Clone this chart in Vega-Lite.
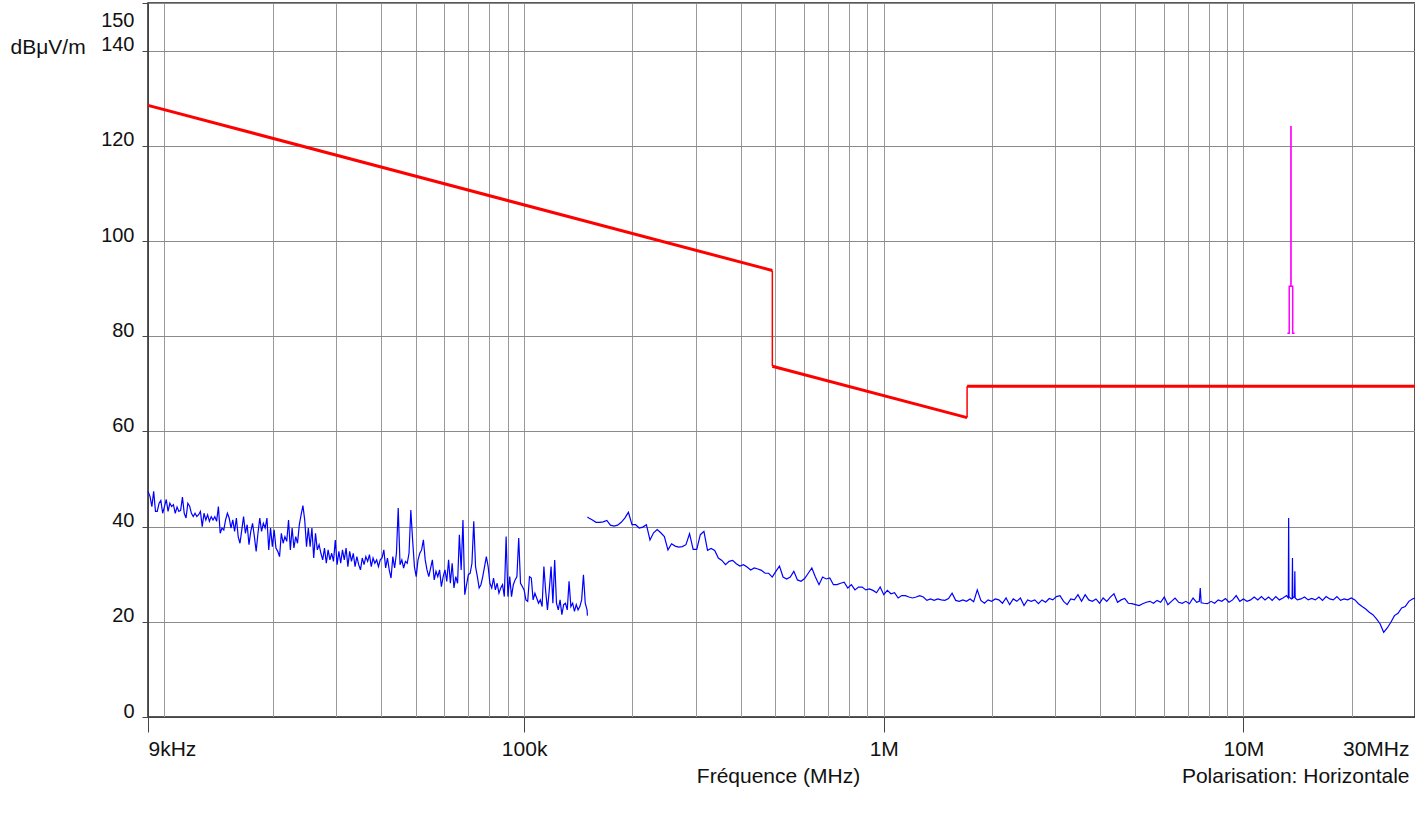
{
"$schema":"https://vega.github.io/schema/vega-lite/v6.json",
"width":1267,"height":714,
"autosize":{"type":"none"},
"padding":{"left":148,"top":3,"right":0,"bottom":99},
"background":"white",
"config":{"view":{"stroke":"#222","strokeWidth":1.5},"font":"Liberation Sans",
"axis":{"labelFont":"Liberation Sans","titleFont":"Liberation Sans","labelColor":"#111","titleColor":"#111","titleFontWeight":"normal","domainColor":"#444","tickColor":"#444"}},
"datasets":{
"lf":[{"hz":9000,"db":47.4},{"hz":9120,"db":46.3},{"hz":9226,"db":44.2},{"hz":9333,"db":47.4},{"hz":9441,"db":43.2},{"hz":9550,"db":43.2},{"hz":9661,"db":44.9},{"hz":9772,"db":45.5},{"hz":9886,"db":42.8},{"hz":10000,"db":44.2},{"hz":10116,"db":45.7},{"hz":10233,"db":43.2},{"hz":10351,"db":44.9},{"hz":10471,"db":44.2},{"hz":10593,"db":44.6},{"hz":10715,"db":42.8},{"hz":10839,"db":44.1},{"hz":10965,"db":43.2},{"hz":11092,"db":43.4},{"hz":11220,"db":46.2},{"hz":11350,"db":42.8},{"hz":11482,"db":41.8},{"hz":11614,"db":44.9},{"hz":11749,"db":44.3},{"hz":11885,"db":42.8},{"hz":12023,"db":42.1},{"hz":12162,"db":42.8},{"hz":12303,"db":42.1},{"hz":12445,"db":42.5},{"hz":12589,"db":43.2},{"hz":12735,"db":40.0},{"hz":12882,"db":42.8},{"hz":13032,"db":41.4},{"hz":13183,"db":42.5},{"hz":13335,"db":41.1},{"hz":13490,"db":42.1},{"hz":13646,"db":41.4},{"hz":13804,"db":42.1},{"hz":13964,"db":41.1},{"hz":14125,"db":44.2},{"hz":14289,"db":38.6},{"hz":14454,"db":39.7},{"hz":14622,"db":39.3},{"hz":14791,"db":41.4},{"hz":14962,"db":42.8},{"hz":15136,"db":41.8},{"hz":15311,"db":39.7},{"hz":15488,"db":41.4},{"hz":15668,"db":39.0},{"hz":15849,"db":41.8},{"hz":16032,"db":37.9},{"hz":16218,"db":36.5},{"hz":16406,"db":39.3},{"hz":16596,"db":42.1},{"hz":16788,"db":38.6},{"hz":16982,"db":40.4},{"hz":17179,"db":36.2},{"hz":17378,"db":39.0},{"hz":17579,"db":40.7},{"hz":17783,"db":37.9},{"hz":17989,"db":34.8},{"hz":18197,"db":38.6},{"hz":18408,"db":41.8},{"hz":18621,"db":39.0},{"hz":18836,"db":40.7},{"hz":19055,"db":39.7},{"hz":19275,"db":41.8},{"hz":19498,"db":35.1},{"hz":19724,"db":39.7},{"hz":19953,"db":35.8},{"hz":20184,"db":39.3},{"hz":20417,"db":35.5},{"hz":20654,"db":34.8},{"hz":20893,"db":33.7},{"hz":21135,"db":38.6},{"hz":21380,"db":36.5},{"hz":21627,"db":37.9},{"hz":21878,"db":36.9},{"hz":22131,"db":41.4},{"hz":22387,"db":35.1},{"hz":22646,"db":39.7},{"hz":22909,"db":35.5},{"hz":23174,"db":37.9},{"hz":23442,"db":36.5},{"hz":23714,"db":40.4},{"hz":23988,"db":42.5},{"hz":24266,"db":44.4},{"hz":24547,"db":41.4},{"hz":24831,"db":35.8},{"hz":25119,"db":39.7},{"hz":25410,"db":35.8},{"hz":25704,"db":39.7},{"hz":26002,"db":33.4},{"hz":26303,"db":38.6},{"hz":26607,"db":35.1},{"hz":26915,"db":36.2},{"hz":27227,"db":34.4},{"hz":27542,"db":33.0},{"hz":27861,"db":35.5},{"hz":28184,"db":32.3},{"hz":28510,"db":35.1},{"hz":28840,"db":33.0},{"hz":29174,"db":34.4},{"hz":29512,"db":32.7},{"hz":29854,"db":37.2},{"hz":30200,"db":32.0},{"hz":30549,"db":34.8},{"hz":30903,"db":32.3},{"hz":31261,"db":35.1},{"hz":31623,"db":33.0},{"hz":31989,"db":35.5},{"hz":32359,"db":31.6},{"hz":32734,"db":34.8},{"hz":33113,"db":32.7},{"hz":33497,"db":34.4},{"hz":33884,"db":31.6},{"hz":34277,"db":33.7},{"hz":34674,"db":32.0},{"hz":35075,"db":30.9},{"hz":35481,"db":33.4},{"hz":35892,"db":32.0},{"hz":36308,"db":33.7},{"hz":36728,"db":32.7},{"hz":37154,"db":34.1},{"hz":37584,"db":31.6},{"hz":38019,"db":33.4},{"hz":38459,"db":32.3},{"hz":38905,"db":33.0},{"hz":39355,"db":31.6},{"hz":39811,"db":33.0},{"hz":40272,"db":33.4},{"hz":40738,"db":35.1},{"hz":41210,"db":31.3},{"hz":41687,"db":33.4},{"hz":42170,"db":30.9},{"hz":42658,"db":29.2},{"hz":43152,"db":33.7},{"hz":43652,"db":31.3},{"hz":44157,"db":34.4},{"hz":44668,"db":43.9},{"hz":45186,"db":32.0},{"hz":45709,"db":33.0},{"hz":46238,"db":31.3},{"hz":46774,"db":32.7},{"hz":47315,"db":32.3},{"hz":47863,"db":34.4},{"hz":48417,"db":43.5},{"hz":48978,"db":37.2},{"hz":49545,"db":31.6},{"hz":50119,"db":29.5},{"hz":50699,"db":33.0},{"hz":51286,"db":34.4},{"hz":51880,"db":35.1},{"hz":52481,"db":37.2},{"hz":53088,"db":33.0},{"hz":53703,"db":30.9},{"hz":54325,"db":29.5},{"hz":54954,"db":31.3},{"hz":55590,"db":33.0},{"hz":56234,"db":28.8},{"hz":56885,"db":30.6},{"hz":57544,"db":29.5},{"hz":58210,"db":30.9},{"hz":58884,"db":27.4},{"hz":59566,"db":29.5},{"hz":60256,"db":30.9},{"hz":60954,"db":28.5},{"hz":61660,"db":33.0},{"hz":62373,"db":28.1},{"hz":63096,"db":32.3},{"hz":63826,"db":27.1},{"hz":64565,"db":29.5},{"hz":65313,"db":28.1},{"hz":66069,"db":38.3},{"hz":66834,"db":30.9},{"hz":67608,"db":41.4},{"hz":68391,"db":25.7},{"hz":69183,"db":27.8},{"hz":69984,"db":29.9},{"hz":70795,"db":30.2},{"hz":71614,"db":32.3},{"hz":72444,"db":41.1},{"hz":73282,"db":31.6},{"hz":74131,"db":29.5},{"hz":74989,"db":27.1},{"hz":75858,"db":27.8},{"hz":76736,"db":29.5},{"hz":77625,"db":31.6},{"hz":78524,"db":33.7},{"hz":79433,"db":31.6},{"hz":80353,"db":28.1},{"hz":81283,"db":27.1},{"hz":82224,"db":29.2},{"hz":83176,"db":26.7},{"hz":84140,"db":28.1},{"hz":85114,"db":26.0},{"hz":86099,"db":27.1},{"hz":87096,"db":27.8},{"hz":88105,"db":25.3},{"hz":89125,"db":37.9},{"hz":90157,"db":25.3},{"hz":91201,"db":29.5},{"hz":92257,"db":25.3},{"hz":93325,"db":27.8},{"hz":94406,"db":28.8},{"hz":95499,"db":29.5},{"hz":96605,"db":37.6},{"hz":97724,"db":28.1},{"hz":98855,"db":27.4},{"hz":100000,"db":26.7},{"hz":101160,"db":24.6},{"hz":102330,"db":24.3},{"hz":103510,"db":29.5},{"hz":104710,"db":29.2},{"hz":105930,"db":24.6},{"hz":107150,"db":26.0},{"hz":108390,"db":25.0},{"hz":109650,"db":23.9},{"hz":110920,"db":24.6},{"hz":112200,"db":23.2},{"hz":113500,"db":31.6},{"hz":114820,"db":26.4},{"hz":116140,"db":22.5},{"hz":117490,"db":26.7},{"hz":118850,"db":31.6},{"hz":120230,"db":23.9},{"hz":121620,"db":33.0},{"hz":123030,"db":23.9},{"hz":124450,"db":22.5},{"hz":125890,"db":24.6},{"hz":127350,"db":21.5},{"hz":128820,"db":23.6},{"hz":130320,"db":23.9},{"hz":131830,"db":22.5},{"hz":133350,"db":28.5},{"hz":134900,"db":23.2},{"hz":136460,"db":23.9},{"hz":138040,"db":22.2},{"hz":139640,"db":23.6},{"hz":141250,"db":22.5},{"hz":142890,"db":23.2},{"hz":144540,"db":24.6},{"hz":146220,"db":29.9},{"hz":147910,"db":23.9},{"hz":149620,"db":22.5},{"hz":150000,"db":21.3}],
"hf":[{"hz":150000,"db":42.0},{"hz":151360,"db":41.8},{"hz":154880,"db":41.4},{"hz":158490,"db":40.9},{"hz":162180,"db":40.9},{"hz":165960,"db":41.0},{"hz":169820,"db":41.3},{"hz":173780,"db":40.3},{"hz":177830,"db":40.1},{"hz":181970,"db":40.3},{"hz":186210,"db":40.9},{"hz":190550,"db":41.8},{"hz":194980,"db":43.0},{"hz":199530,"db":40.4},{"hz":204170,"db":40.4},{"hz":208930,"db":39.7},{"hz":213800,"db":39.9},{"hz":218780,"db":40.4},{"hz":223870,"db":37.2},{"hz":229090,"db":38.7},{"hz":234420,"db":39.4},{"hz":239880,"db":38.7},{"hz":245470,"db":37.9},{"hz":251190,"db":35.1},{"hz":257040,"db":36.4},{"hz":263030,"db":35.9},{"hz":269150,"db":35.7},{"hz":275420,"db":35.8},{"hz":281840,"db":36.2},{"hz":288400,"db":38.5},{"hz":295120,"db":35.2},{"hz":302000,"db":35.2},{"hz":309030,"db":38.3},{"hz":316230,"db":39.0},{"hz":323590,"db":35.0},{"hz":331130,"db":35.4},{"hz":338840,"db":35.0},{"hz":346740,"db":33.4},{"hz":354810,"db":32.9},{"hz":363080,"db":32.0},{"hz":371540,"db":32.7},{"hz":380190,"db":32.9},{"hz":389050,"db":32.2},{"hz":398110,"db":31.7},{"hz":407380,"db":32.0},{"hz":416870,"db":31.5},{"hz":426580,"db":30.9},{"hz":436520,"db":31.3},{"hz":446680,"db":31.1},{"hz":457090,"db":30.8},{"hz":467740,"db":30.2},{"hz":478630,"db":30.2},{"hz":489780,"db":29.4},{"hz":501190,"db":30.6},{"hz":512860,"db":31.7},{"hz":524810,"db":29.4},{"hz":537030,"db":29.0},{"hz":549540,"db":29.4},{"hz":562340,"db":30.6},{"hz":575440,"db":28.8},{"hz":588840,"db":28.5},{"hz":602560,"db":29.1},{"hz":616600,"db":30.2},{"hz":630960,"db":31.3},{"hz":645650,"db":29.4},{"hz":660690,"db":27.8},{"hz":676080,"db":29.4},{"hz":691830,"db":29.0},{"hz":707950,"db":29.2},{"hz":724440,"db":27.8},{"hz":741310,"db":27.8},{"hz":758580,"db":28.1},{"hz":776250,"db":28.3},{"hz":794330,"db":27.1},{"hz":812830,"db":27.8},{"hz":831760,"db":26.7},{"hz":851140,"db":27.3},{"hz":870960,"db":27.3},{"hz":891250,"db":26.7},{"hz":912010,"db":26.9},{"hz":933250,"db":26.6},{"hz":954990,"db":26.1},{"hz":977240,"db":27.3},{"hz":1000000,"db":25.7},{"hz":1023300,"db":26.6},{"hz":1047100,"db":25.9},{"hz":1071500,"db":26.1},{"hz":1096500,"db":25.0},{"hz":1122000,"db":25.5},{"hz":1148200,"db":25.5},{"hz":1174900,"db":25.2},{"hz":1202300,"db":25.0},{"hz":1230300,"db":25.2},{"hz":1258900,"db":25.5},{"hz":1288200,"db":25.2},{"hz":1318300,"db":24.5},{"hz":1349000,"db":24.8},{"hz":1380400,"db":24.5},{"hz":1412500,"db":24.8},{"hz":1445400,"db":24.6},{"hz":1479100,"db":24.5},{"hz":1513600,"db":24.9},{"hz":1548800,"db":26.0},{"hz":1584900,"db":24.5},{"hz":1621800,"db":24.3},{"hz":1659600,"db":24.6},{"hz":1698200,"db":24.3},{"hz":1737800,"db":24.8},{"hz":1778300,"db":24.2},{"hz":1819700,"db":26.7},{"hz":1862100,"db":24.5},{"hz":1905500,"db":23.9},{"hz":1949800,"db":24.6},{"hz":1995300,"db":24.3},{"hz":2041700,"db":24.8},{"hz":2089300,"db":24.6},{"hz":2138000,"db":23.9},{"hz":2187800,"db":25.0},{"hz":2238700,"db":23.6},{"hz":2290900,"db":24.8},{"hz":2344200,"db":24.3},{"hz":2398800,"db":25.0},{"hz":2454700,"db":23.4},{"hz":2511900,"db":24.6},{"hz":2570400,"db":24.3},{"hz":2630300,"db":24.6},{"hz":2691500,"db":23.8},{"hz":2754200,"db":24.6},{"hz":2818400,"db":24.1},{"hz":2884000,"db":24.9},{"hz":2951200,"db":24.6},{"hz":3020000,"db":25.3},{"hz":3090300,"db":25.5},{"hz":3162300,"db":24.3},{"hz":3235900,"db":23.6},{"hz":3311300,"db":24.8},{"hz":3388400,"db":24.6},{"hz":3467400,"db":25.7},{"hz":3548100,"db":24.3},{"hz":3630800,"db":25.7},{"hz":3715400,"db":24.6},{"hz":3801900,"db":24.3},{"hz":3890500,"db":24.8},{"hz":3981100,"db":23.9},{"hz":4073800,"db":25.0},{"hz":4168700,"db":24.3},{"hz":4265800,"db":25.2},{"hz":4365200,"db":25.9},{"hz":4466800,"db":24.1},{"hz":4570900,"db":24.6},{"hz":4677400,"db":24.9},{"hz":4786300,"db":23.9},{"hz":4897800,"db":23.8},{"hz":5011900,"db":23.6},{"hz":5128600,"db":23.4},{"hz":5248100,"db":23.8},{"hz":5370300,"db":24.1},{"hz":5495400,"db":24.3},{"hz":5623400,"db":23.9},{"hz":5754400,"db":24.5},{"hz":5888400,"db":24.1},{"hz":6025600,"db":25.2},{"hz":6166000,"db":23.6},{"hz":6309600,"db":24.3},{"hz":6456500,"db":25.0},{"hz":6606900,"db":24.1},{"hz":6760800,"db":23.9},{"hz":6918300,"db":24.3},{"hz":7079500,"db":23.8},{"hz":7244400,"db":25.0},{"hz":7413100,"db":24.1},{"hz":7540000,"db":24.3},{"hz":7586000,"db":27.1},{"hz":7630000,"db":24.0},{"hz":7762500,"db":23.9},{"hz":7943300,"db":23.8},{"hz":8128300,"db":24.3},{"hz":8317600,"db":23.9},{"hz":8511400,"db":24.6},{"hz":8709600,"db":24.3},{"hz":8912500,"db":24.9},{"hz":9120100,"db":24.1},{"hz":9332500,"db":24.6},{"hz":9549900,"db":25.5},{"hz":9772400,"db":24.3},{"hz":10000000,"db":24.8},{"hz":10233000,"db":24.3},{"hz":10471000,"db":24.6},{"hz":10715000,"db":25.2},{"hz":10965000,"db":24.6},{"hz":11220000,"db":25.3},{"hz":11482000,"db":24.6},{"hz":11749000,"db":25.2},{"hz":12023000,"db":24.5},{"hz":12303000,"db":25.3},{"hz":12589000,"db":24.6},{"hz":12882000,"db":25.0},{"hz":13183000,"db":25.5},{"hz":13330000,"db":25.0},{"hz":13360000,"db":41.8},{"hz":13390000,"db":25.3},{"hz":13500000,"db":25.0},{"hz":13600000,"db":24.8},{"hz":13660000,"db":25.0},{"hz":13690000,"db":33.4},{"hz":13720000,"db":25.0},{"hz":13800000,"db":25.2},{"hz":13870000,"db":25.2},{"hz":13900000,"db":30.6},{"hz":13930000,"db":25.0},{"hz":14125000,"db":24.6},{"hz":14454000,"db":24.8},{"hz":14791000,"db":25.2},{"hz":15136000,"db":24.6},{"hz":15488000,"db":24.9},{"hz":15849000,"db":24.6},{"hz":16218000,"db":25.2},{"hz":16596000,"db":24.5},{"hz":16982000,"db":25.3},{"hz":17378000,"db":24.8},{"hz":17783000,"db":24.6},{"hz":18197000,"db":25.3},{"hz":18621000,"db":24.5},{"hz":19055000,"db":24.8},{"hz":19498000,"db":24.6},{"hz":19953000,"db":25.0},{"hz":20417000,"db":24.6},{"hz":20893000,"db":23.8},{"hz":21380000,"db":23.2},{"hz":21878000,"db":22.7},{"hz":22387000,"db":22.0},{"hz":22909000,"db":21.5},{"hz":23442000,"db":20.6},{"hz":23988000,"db":19.6},{"hz":24547000,"db":17.8},{"hz":25119000,"db":18.7},{"hz":25704000,"db":19.9},{"hz":26303000,"db":21.3},{"hz":26915000,"db":21.8},{"hz":27542000,"db":22.9},{"hz":28184000,"db":23.2},{"hz":28840000,"db":24.3},{"hz":29512000,"db":24.8},{"hz":30000000,"db":25.0}],
"limit":[{"seg":"a","hz":9000,"db":128.5},{"seg":"a","hz":490000,"db":93.8},{"seg":"b","hz":490000,"db":73.7},{"seg":"b","hz":1705000,"db":62.9},{"seg":"c","hz":1705000,"db":69.5},{"seg":"c","hz":30000000,"db":69.5}],
"steps":[{"hz":490000,"db":93.8,"db2":73.7},{"hz":1705000,"db":62.9,"db2":69.5}],
"mask":[{"i":1,"hz":13250000,"db":80.6},{"i":2,"hz":13410000,"db":80.6},{"i":3,"hz":13410000,"db":90.5},{"i":4,"hz":13553000,"db":90.5},{"i":5,"hz":13553000,"db":124},{"i":6,"hz":13567000,"db":124},{"i":7,"hz":13567000,"db":90.5},{"i":8,"hz":13710000,"db":90.5},{"i":9,"hz":13710000,"db":80.6},{"i":10,"hz":13880000,"db":80.6}]
},
"encoding":{
"x":{"field":"hz","type":"quantitative","scale":{"type":"log","domain":[9000,30000000],"nice":false},
"axis":{"values":[9000,10000,20000,30000,40000,50000,60000,70000,80000,90000,100000,200000,300000,400000,500000,600000,700000,800000,900000,1000000,2000000,3000000,4000000,5000000,6000000,7000000,8000000,9000000,10000000,20000000,30000000],
"labelExpr":"datum.value == 9000 ? '9kHz' : datum.value == 100000 ? '100k' : datum.value == 1000000 ? '1M' : datum.value == 10000000 ? '10M' : datum.value == 30000000 ? ['30MHz', 'Polarisation: Horizontale'] : ''",
"labelFlush":true,"labelOverlap":false,"labelBound":false,"labelLimit":0,"labelFontSize":21,"labelPadding":6,"labelLineHeight":27,
"labelOffset":{"condition":{"test":"datum.value == 30000000","value":-6},"value":0},
"tickSize":15,"tickOpacity":{"condition":{"test":"datum.value == 9000 || datum.value == 100000 || datum.value == 1000000 || datum.value == 10000000","value":1},"value":0},
"grid":true,"gridColor":"#9a9a9a","gridWidth":1,
"title":"Fréquence (MHz)","titleFontSize":21,"titleX":630,"titleY":65,"titleBaseline":"alphabetic","titleAlign":"center"}},
"y":{"field":"db","type":"quantitative","scale":{"domain":[0,150],"nice":false,"zero":true},
"axis":{"values":[0,20,40,60,80,100,120,140,150],"labelFontSize":20,"labelBaseline":"alphabetic","labelPadding":8,"tickSize":6,
"labelOffset":{"condition":{"test":"datum.value == 150","value":23},"value":0},
"grid":true,"gridColor":"#8a8a8a","gridWidth":1,
"title":"dBμV/m","titleAngle":0,"titleAlign":"left","titleBaseline":"alphabetic","titleX":-138,"titleY":50,"titleFontSize":21}}
},
"layer":[
{"data":{"name":"lf"},"mark":{"type":"line","color":"#0000ff","strokeWidth":1.2}},
{"data":{"name":"hf"},"mark":{"type":"line","color":"#0000ff","strokeWidth":1.2}},
{"data":{"name":"limit"},"mark":{"type":"line","color":"#ff0000","strokeWidth":3},"encoding":{"detail":{"field":"seg"}}},
{"data":{"name":"steps"},"mark":{"type":"rule","color":"#ff0000","strokeWidth":1.5},"encoding":{"y2":{"field":"db2"}}},
{"data":{"name":"mask"},"mark":{"type":"line","color":"#ff00ff","strokeWidth":1.5},"encoding":{"order":{"field":"i"}}}
]
}
